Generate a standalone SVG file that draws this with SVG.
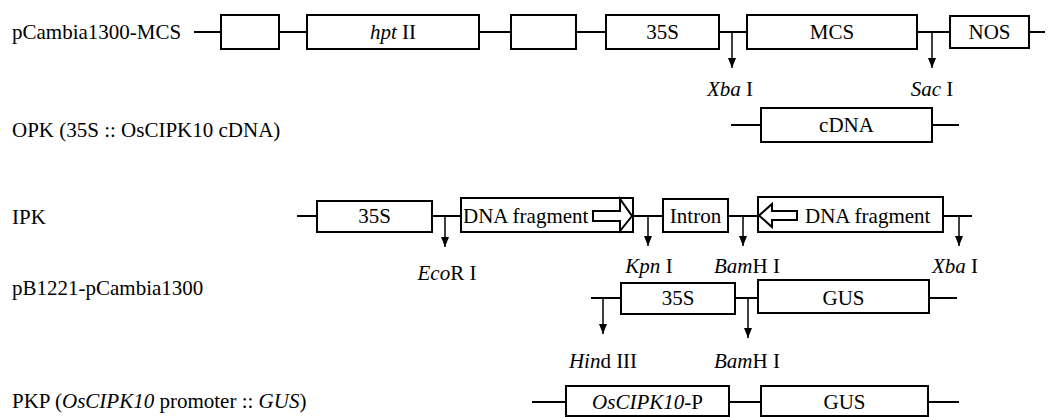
<svg xmlns="http://www.w3.org/2000/svg" width="1049" height="417" viewBox="0 0 1049 417">
<defs>
<marker id="ah" markerUnits="userSpaceOnUse" markerWidth="10" markerHeight="8" refX="10" refY="4" orient="auto">
<path d="M0,0 L10,4 L0,8 z" fill="#000"/>
</marker>
<style>
text{font-family:"Liberation Serif","Times New Roman",serif;font-size:21px;fill:#000}
.m{text-anchor:middle}
.i{font-style:italic}
.box{fill:#fff;stroke:#000;stroke-width:2}
.ln{stroke:#000;stroke-width:2;fill:none}
.ar{stroke:#000;stroke-width:1.5;fill:none;marker-end:url(#ah)}
.sym{fill:#fff;stroke:#000;stroke-width:2}
</style>
</defs>
<rect width="1049" height="417" fill="#fff"/>

<g id="labels">
<text x="12" y="39">pCambia1300-MCS</text>
<text x="12" y="137">OPK (35S :: OsCIPK10 cDNA)</text>
<text x="12" y="224">IPK</text>
<text x="12" y="295">pB1221-pCambia1300</text>
<text x="12" y="408">PKP (<tspan class="i">OsCIPK10</tspan> promoter :: <tspan class="i">GUS</tspan>)</text>
</g>

<g id="connectors">
<line class="ln" x1="194" y1="32" x2="1045" y2="32"/>
<line class="ln" x1="731" y1="125" x2="959" y2="125"/>
<line class="ln" x1="297" y1="216" x2="972" y2="216"/>
<line class="ln" x1="591" y1="298" x2="957" y2="298"/>
<line class="ln" x1="532" y1="402" x2="959" y2="402"/>
<line class="ar" x1="732" y1="32" x2="732" y2="68"/>
<line class="ar" x1="932" y1="32" x2="932" y2="68"/>
<line class="ar" x1="445" y1="216" x2="445" y2="247"/>
<line class="ar" x1="648" y1="216" x2="648" y2="246"/>
<line class="ar" x1="743" y1="216" x2="743" y2="246"/>
<line class="ar" x1="959" y1="216" x2="959" y2="246"/>
<line class="ar" x1="603" y1="298" x2="603" y2="334"/>
<line class="ar" x1="748" y1="298" x2="748" y2="338"/>
</g>

<g id="sites">
<text class="m" x="730" y="96"><tspan class="i">Xba</tspan> I</text>
<text class="m" x="932" y="96"><tspan class="i">Sac</tspan> I</text>
<text class="m" x="447" y="280"><tspan class="i">Eco</tspan>R I</text>
<text class="m" x="649" y="273"><tspan class="i">Kpn</tspan> I</text>
<text class="m" x="747" y="273"><tspan class="i">Bam</tspan>H I</text>
<text class="m" x="955" y="273"><tspan class="i">Xba</tspan> I</text>
<text class="m" x="603" y="368"><tspan class="i">Hin</tspan>d III</text>
<text class="m" x="747" y="368"><tspan class="i">Bam</tspan>H I</text>
</g>

<g id="r1-box1"><rect class="box" x="221" y="15" width="58" height="34"/></g>
<g id="r1-hpt"><rect class="box" x="307" y="15" width="172" height="34"/><text class="m" x="393" y="39"><tspan class="i">hpt</tspan> II</text></g>
<g id="r1-box3"><rect class="box" x="511" y="15" width="65" height="34"/></g>
<g id="r1-35s"><rect class="box" x="606" y="15" width="113" height="34"/><text class="m" x="662.5" y="39">35S</text></g>
<g id="r1-mcs"><rect class="box" x="747" y="15" width="170" height="34"/><text class="m" x="832" y="39">MCS</text></g>
<g id="r1-nos"><rect class="box" x="950" y="16" width="79" height="32"/><text class="m" x="989.5" y="39">NOS</text></g>

<g id="r2-cdna"><rect class="box" x="761" y="108" width="171" height="34"/><text class="m" x="846.5" y="132">cDNA</text></g>

<g id="r3-35s"><rect class="box" x="317" y="201" width="115" height="31"/><text class="m" x="374.5" y="223">35S</text></g>
<g id="r3-frag1"><rect class="box" x="461" y="198" width="172" height="34"/><text x="463" y="223">DNA fragment</text>
<polygon class="sym" points="593,211 620,211 620,199 632,216 620,231 620,221 593,221"/></g>
<g id="r3-intron"><rect class="box" x="663" y="199" width="65" height="33"/><text class="m" x="695.5" y="223">Intron</text></g>
<g id="r3-frag2"><rect class="box" x="758" y="197" width="185" height="35"/><text x="805" y="223">DNA fragment</text>
<polygon class="sym" points="797,211 772,211 772,204 759,215.5 772,227 772,220 797,220"/></g>

<g id="r4-35s"><rect class="box" x="621" y="283" width="114" height="31"/><text class="m" x="678" y="305">35S</text></g>
<g id="r4-gus"><rect class="box" x="758" y="280" width="171" height="33"/><text class="m" x="843.5" y="305">GUS</text></g>

<g id="r5-prom"><rect class="box" x="566" y="386" width="163" height="30"/><text class="m" x="647.5" y="409"><tspan class="i">OsCIPK10</tspan>-P</text></g>
<g id="r5-gus"><rect class="box" x="761" y="386" width="167" height="30"/><text class="m" x="844.5" y="409">GUS</text></g>
</svg>
